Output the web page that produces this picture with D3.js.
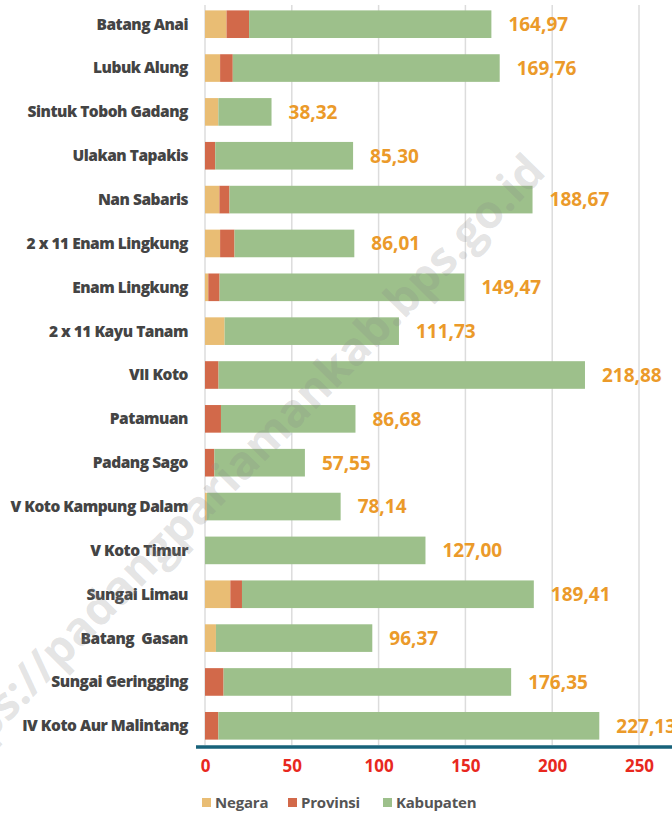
<!DOCTYPE html>
<html>
<head>
<meta charset="utf-8">
<script src="https://cdn.jsdelivr.net/npm/d3@7"></script>
<style>
  body { margin: 0; background: #fff; }
  svg { display: block; font-family: "Open Sans", Lato, sans-serif; }
</style>
</head>
<body>
<div id="chart"></div>
<script>
// Kecamatan (top to bottom)
const categories = [
  'Batang Anai', 'Lubuk Alung', 'Sintuk Toboh Gadang', 'Ulakan Tapakis',
  'Nan Sabaris', '2 x 11 Enam Lingkung', 'Enam Lingkung', '2 x 11 Kayu Tanam',
  'VII Koto', 'Patamuan', 'Padang Sago', 'V Koto Kampung Dalam',
  'V Koto Timur', 'Sungai Limau', 'Batang  Gasan', 'Sungai Geringging',
  'IV Koto Aur Malintang'
];
const negara    = [12.4, 8.7, 7.7, 0, 8.3, 8.7, 1.9, 11.3, 0, 0, 0, 1.1, 0, 14.6, 6.3, 0, 0];
const provinsi  = [13.0, 7.3, 0, 5.9, 5.8, 8.3, 6.5, 0, 7.8, 9.2, 5.4, 0, 0, 6.7, 0, 10.7, 7.7];
const totals    = [164.97, 169.76, 38.32, 85.30, 188.67, 86.01, 149.47, 111.73,
                   218.88, 86.68, 57.55, 78.14, 127.00, 189.41, 96.37, 176.35, 227.13];
// kabupaten = remainder of the total
const kabupaten = totals.map((t, i) => +(t - negara[i] - provinsi[i]).toFixed(2));
const xTicks = [0, 50, 100, 150, 200, 250];

const seriesKeys = ['Negara', 'Provinsi', 'Kabupaten'];
const colors = ['#e9bd74', '#d2694a', '#9dc08b'];

const width = 672, height = 814;
const margin = { top: 6, left: 205, right: 33 };

const rows = categories.map((c, i) => ({
  name: c, Negara: negara[i], Provinsi: provinsi[i], Kabupaten: kabupaten[i], total: totals[i]
}));

const svg = d3.select('#chart').append('svg')
  .attr('width', width)
  .attr('height', height);

const x = d3.scaleLinear().domain([0, 250]).range([margin.left, 639]);
const y = d3.scaleBand().domain(categories).range([margin.top, 744]).paddingInner(0.37).paddingOuter(0.1);

// gridlines
svg.append('g')
  .selectAll('line')
  .data(xTicks)
  .join('line')
  .attr('x1', d => x(d)).attr('x2', d => x(d))
  .attr('y1', 5).attr('y2', 745)
  .attr('stroke', '#dcdcdc')
  .attr('stroke-width', 1.5);

// stacked bars
const stack = d3.stack().keys(seriesKeys)(rows);
svg.append('g')
  .selectAll('g')
  .data(stack)
  .join('g')
  .attr('fill', (d, i) => colors[i])
  .selectAll('rect')
  .data(d => d)
  .join('rect')
  .attr('x', d => x(d[0]))
  .attr('y', d => y(d.data.name))
  .attr('width', d => Math.max(0, x(d[1]) - x(d[0])))
  .attr('height', y.bandwidth());

// category labels
svg.append('g')
  .selectAll('text')
  .data(categories)
  .join('text')
  .attr('x', 188)
  .attr('y', d => y(d) + y.bandwidth() / 2)
  .attr('dy', '0.35em')
  .attr('text-anchor', 'end')
  .attr('fill', '#444')
  .attr('font-size', 15.5)
  .attr('font-weight', 800)
  .attr('letter-spacing', -0.5)
  .style('white-space', 'pre')
  .text(d => d);

// total labels
svg.append('g')
  .selectAll('text')
  .data(rows)
  .join('text')
  .attr('x', d => x(d.total) + 17)
  .attr('y', d => y(d.name) + y.bandwidth() / 2)
  .attr('dy', '0.36em')
  .attr('fill', '#eb9a2a')
  .attr('font-size', 19)
  .attr('font-weight', 700)
  .text(d => d.total.toFixed(2).replace('.', ','));

// axis line
svg.append('line')
  .attr('x1', 196).attr('x2', width)
  .attr('y1', 747).attr('y2', 747)
  .attr('stroke', '#17627a')
  .attr('stroke-width', 3.5);

// x tick labels
const xAxis = d3.axisBottom(x).tickValues(xTicks).tickSize(0).tickPadding(0);
const ax = svg.append('g').attr('transform', 'translate(0,772)').call(xAxis);
ax.select('.domain').remove();
ax.selectAll('text')
  .attr('dy', 0)
  .attr('fill', '#e8281e')
  .attr('font-size', 17)
  .attr('font-weight', 700)
  .attr('font-family', '"Open Sans", sans-serif');

// legend
const legendX = [202, 288, 383];
const legend = svg.append('g')
  .selectAll('g')
  .data(seriesKeys)
  .join('g')
  .attr('transform', (d, i) => `translate(${legendX[i]},798)`);
legend.append('rect')
  .attr('width', 9).attr('height', 9)
  .attr('fill', (d, i) => colors[i]);
legend.append('text')
  .attr('x', 13).attr('y', 10)
  .attr('fill', '#555')
  .attr('font-size', 15)
  .attr('font-weight', 700)
  .attr('letter-spacing', -0.2)
  .text(d => d);

// watermark
svg.append('text')
  .attr('transform', 'translate(-62,794) rotate(-45.5)')
  .attr('fill', '#8a8a8a')
  .attr('fill-opacity', 0.24)
  .attr('font-size', 46)
  .attr('font-weight', 700)
  .text('https://padangpariamankab.bps.go.id');
</script>
</body>
</html>
